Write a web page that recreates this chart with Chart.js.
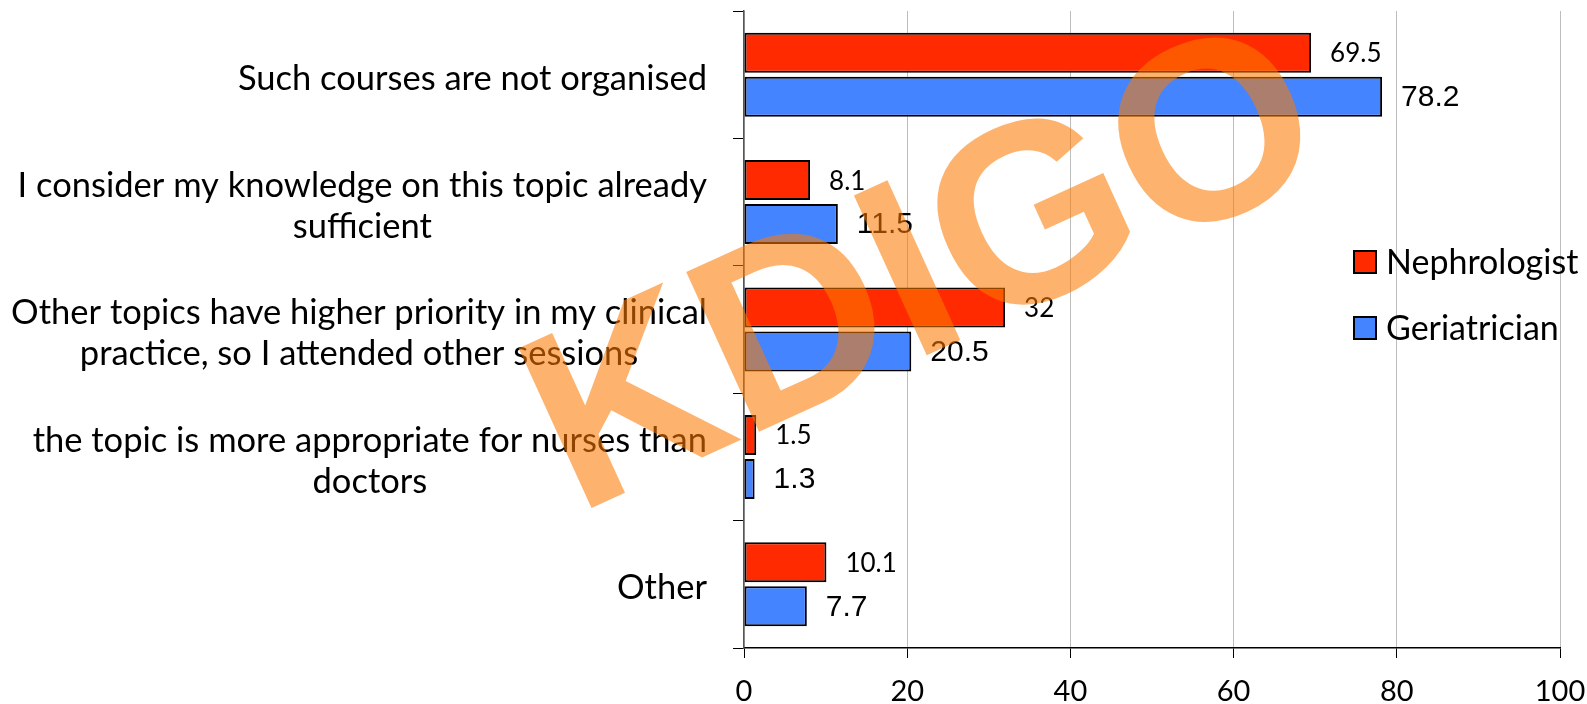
<!DOCTYPE html>
<html>
<head>
<meta charset="utf-8">
<script src="https://cdn.jsdelivr.net/npm/chart.js@4.4.0/dist/chart.umd.min.js"></script>
<style>
	html, body { margin: 0; padding: 0; background: #fff; }
	#wrap { width: 1587px; height: 704px; }
</style>
</head>
<body>
<div id="wrap"><canvas id="myChart" width="1587" height="704"></canvas></div>
<script>
const categories = [
	['Such courses are not organised'],
	['I consider my knowledge on this topic already', 'sufficient'],
	['Other topics have higher priority in my clinical', 'practice, so I attended other sessions'],
	['the topic is more appropriate for nurses than', 'doctors'],
	['Other']
];
const nephrologist = [69.5, 8.1, 32, 1.5, 10.1];
const geriatrician = [78.2, 11.5, 20.5, 1.3, 7.7];
const xTicks = [0, 20, 40, 60, 80, 100];
const watermark = 'KDIGO';

const colors = ['#FF2A00', '#4484FF'];
const labelFonts = ['26px Lato', '30px "Liberation Sans", Arial, sans-serif'];

// etiquetas das categorias: cada bloco alinhado à direita, linhas centradas
const categoryLabels = {
	id: 'categoryLabels',
	afterDraw(chart) {
		const ctx = chart.ctx;
		const yScale = chart.scales.y;
		const right = 707;
		const lineH = 41;
		ctx.save();
		ctx.font = '34.5px Lato';
		ctx.fillStyle = '#000';
		ctx.textAlign = 'center';
		ctx.textBaseline = 'middle';
		categories.forEach((lines, i) => {
			const y = yScale.getPixelForValue(i) + 4;
			const w = Math.max(...lines.map(l => ctx.measureText(l).width));
			const cx = right - w / 2;
			lines.forEach((l, j) => {
				ctx.fillText(l, cx, y + (j - (lines.length - 1) / 2) * lineH);
			});
		});
		ctx.restore();
	}
};

const valueLabels = {
	id: 'valueLabels',
	afterDatasetsDraw(chart) {
		const ctx = chart.ctx;
		ctx.save();
		ctx.fillStyle = '#000';
		ctx.textAlign = 'left';
		ctx.textBaseline = 'middle';
		chart.data.datasets.forEach((ds, d) => {
			ctx.font = labelFonts[d];
			chart.getDatasetMeta(d).data.forEach((bar, i) => {
				ctx.fillText(String(ds.data[i]), bar.x + 19, bar.y + 1);
			});
		});
		ctx.restore();
	}
};

const legendBox = {
	id: 'legendBox',
	afterDraw(chart) {
		const ctx = chart.ctx;
		const x = chart.chartArea.right - 206;
		const y0 = 262;
		ctx.save();
		ctx.font = '34px Lato';
		ctx.textBaseline = 'middle';
		ctx.textAlign = 'left';
		chart.data.datasets.forEach((ds, d) => {
			const y = y0 + d * 66;
			ctx.fillStyle = ds.backgroundColor;
			ctx.fillRect(x, y - 11, 22, 22);
			ctx.lineWidth = 2;
			ctx.strokeStyle = '#000';
			ctx.strokeRect(x, y - 11, 22, 22);
			ctx.fillStyle = '#000';
			ctx.fillText(ds.label, x + 32, y + 1);
		});
		ctx.restore();
	}
};

const stamp = {
	id: 'stamp',
	afterDraw(chart) {
		const ctx = chart.ctx;
		ctx.save();
		ctx.translate(576, 515);
		ctx.rotate(-24.5 * Math.PI / 180);
		ctx.font = 'bold 255px "Liberation Sans"';
		ctx.textAlign = 'left';
		ctx.textBaseline = 'alphabetic';
		ctx.fillStyle = 'rgba(251, 121, 0, 0.57)';
		ctx.fillText(watermark, 0, 0);
		ctx.restore();
	}
};

window.onload = () => {
	const ctx = document.getElementById('myChart').getContext('2d');
	new Chart(ctx, {
		type: 'bar',
		data: {
			labels: categories.map(c => c.join(' ')),
			datasets: [
				{
					label: 'Nephrologist',
					data: nephrologist,
					backgroundColor: colors[0],
					borderColor: '#000',
					borderWidth: 2,
					borderSkipped: false,
					categoryPercentage: 0.69,
					barPercentage: 0.91
				},
				{
					label: 'Geriatrician',
					data: geriatrician,
					backgroundColor: colors[1],
					borderColor: '#000',
					borderWidth: 2,
					borderSkipped: false,
					categoryPercentage: 0.69,
					barPercentage: 0.91
				}
			]
		},
		options: {
			indexAxis: 'y',
			responsive: false,
			animation: false,
			layout: { padding: { left: 733, right: 27, top: 11, bottom: 0 } },
			plugins: {
				legend: { display: false },
				tooltip: { enabled: false }
			},
			scales: {
				x: {
					min: 0,
					max: 100,
					afterBuildTicks(scale) {
						scale.ticks = xTicks.map(v => ({ value: v }));
					},
					afterFit(scale) {
						scale.height = 56;
						scale.paddingRight = 0;
						scale.paddingLeft = 0;
					},
					grid: {
						color: '#BDBDBD',
						lineWidth: 1,
						tickColor: '#000',
						tickLength: 10
					},
					border: { color: '#000', width: 1.5 },
					ticks: {
						color: '#000',
						font: { family: 'Lato', size: 29 },
						padding: 16
					}
				},
				y: {
					offset: true,
					afterFit(scale) {
						scale.width = 11;
					},
					grid: {
						offset: true,
						drawOnChartArea: false,
						tickColor: '#000',
						tickLength: 11
					},
					border: { color: '#555', width: 1.5 },
					ticks: { display: false }
				}
			}
		},
		plugins: [valueLabels, categoryLabels, legendBox, stamp]
	});
};
</script>
</body>
</html>
